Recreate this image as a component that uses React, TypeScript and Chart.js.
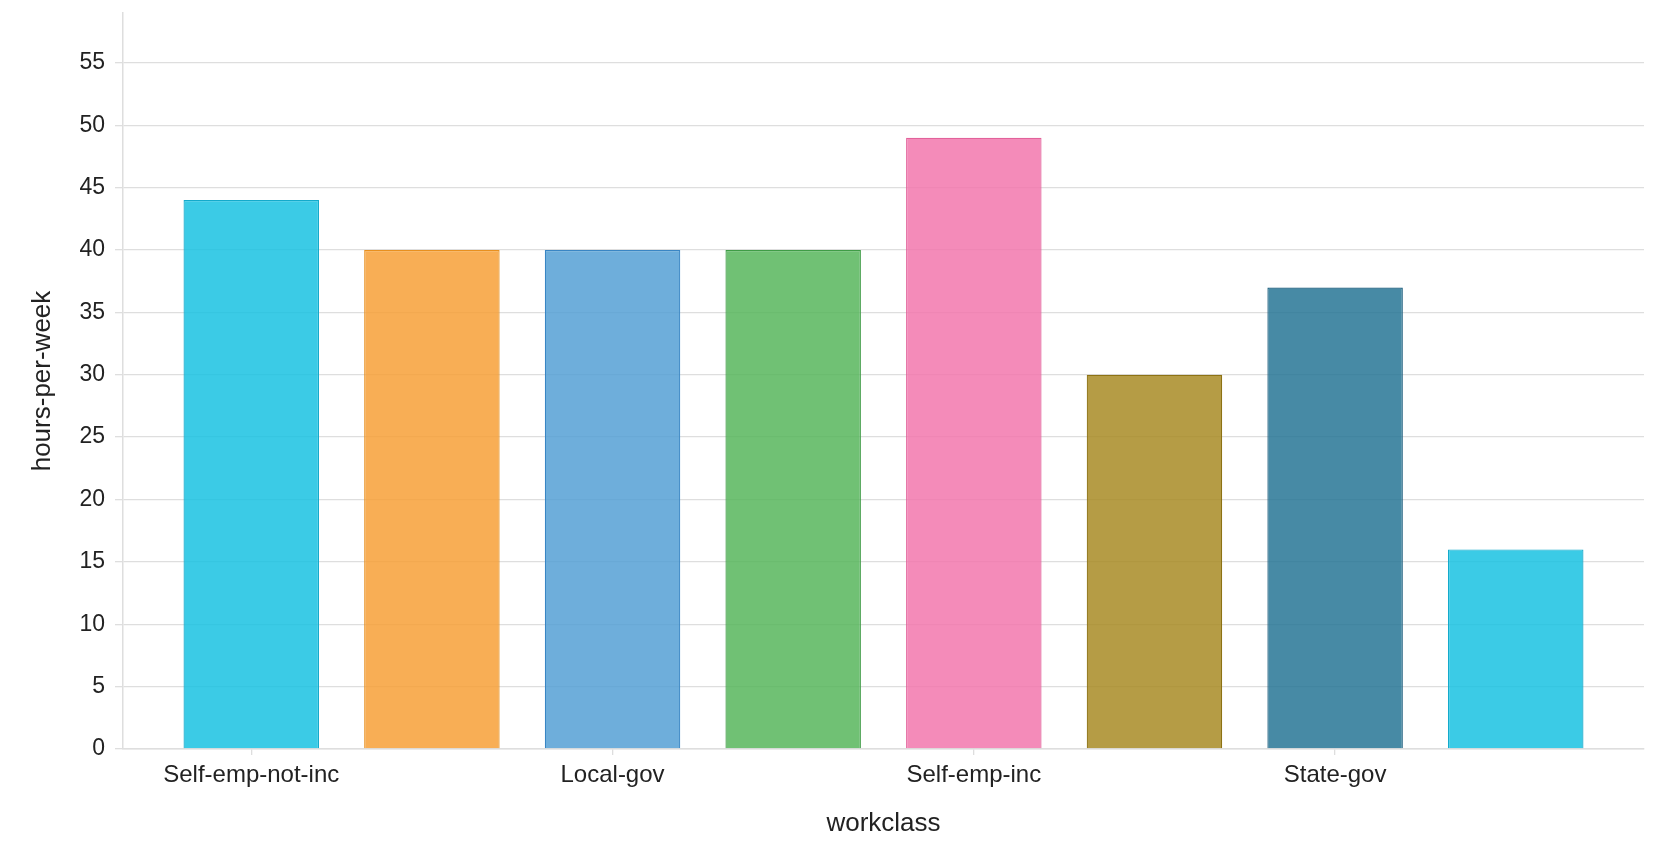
import { useEffect, useRef } from "react";
import { Chart, registerables } from "chart.js";
Chart.register(...registerables);

const workclasses = [
  "Self-emp-not-inc",
  "Private",
  "Local-gov",
  "Federal-gov",
  "Self-emp-inc",
  "Without-pay",
  "State-gov",
  "Never-worked",
];
const hoursPerWeek = [44, 40, 40, 40, 49, 30, 37, 16];
const fillColors = [
  "rgba(25,194,226,0.85)",
  "rgba(247,160,55,0.85)",
  "rgba(85,160,213,0.85)",
  "rgba(87,182,92,0.85)",
  "rgba(242,119,173,0.85)",
  "rgba(168,139,37,0.85)",
  "rgba(39,117,149,0.85)",
  "rgba(25,194,226,0.85)",
];
const borderColors = ["#14aacb", "#e8901f", "#3a86c4", "#3f9c46", "#e2629b", "#8d7214", "#1b5c7c", "#14aacb"];
const shownTicks = [0, 2, 4, 6];
const yTicks = [0, 5, 10, 15, 20, 25, 30, 35, 40, 45, 50, 55];

const FONT = "'Liberation Sans', Arial, Helvetica, sans-serif";
const GRID = "#dedede";

export default function App() {
  const canvasRef = useRef<HTMLCanvasElement>(null);

  useEffect(() => {
    if (!canvasRef.current) return;
    const ctx = canvasRef.current.getContext("2d");
    if (!ctx) return;

    const chart = new Chart(ctx, {
      type: "bar",
      data: {
        datasets: [
          {
            data: hoursPerWeek.map((v, i) => ({ x: i, y: v })),
            backgroundColor: fillColors,
            borderColor: borderColors,
            borderWidth: 1.2,
            barPercentage: 0.75,
            categoryPercentage: 1,
          },
        ],
      },
      options: {
        responsive: false,
        animation: false,
        devicePixelRatio: 1,
        layout: { padding: { top: 13, right: 24, left: 0, bottom: 0 } },
        plugins: { legend: { display: false }, tooltip: { enabled: false } },
        scales: {
          x: {
            type: "linear",
            min: -0.71,
            max: 7.71,
            offset: false,
            afterBuildTicks: (scale: any) => {
              scale.ticks = shownTicks.map((v) => ({ value: v }));
            },
            afterFit: (scale: any) => {
              scale.height = 118;
              scale.paddingLeft = 0;
              scale.paddingRight = 0;
            },
            grid: {
              offset: false,
              drawOnChartArea: false,
              drawTicks: true,
              tickLength: 6,
              color: GRID,
              lineWidth: 1.3,
            },
            border: { color: GRID, width: 1.5 },
            ticks: {
              autoSkip: false,
              maxRotation: 0,
              padding: 6,
              color: "#222",
              font: { family: FONT, size: 24 },
              callback: (v: any) => workclasses[v as number] ?? "",
            },
            title: {
              display: true,
              text: "workclass",
              color: "#222",
              font: { family: FONT, size: 26 },
              padding: { top: 0, bottom: 28 },
            },
          },
          y: {
            min: 0,
            max: 59,
            afterBuildTicks: (scale: any) => {
              scale.ticks = yTicks.map((v) => ({ value: v }));
            },
            afterFit: (scale: any) => {
              scale.width = 123;
              scale.paddingTop = 0;
              scale.paddingBottom = 0;
            },
            grid: { color: GRID, lineWidth: 1.3, tickLength: 8 },
            border: { color: GRID, width: 1.5 },
            ticks: {
              padding: 10,
              color: "#222",
              font: { family: FONT, size: 23 },
            },
            title: {
              display: true,
              text: "hours-per-week",
              color: "#222",
              font: { family: FONT, size: 26 },
              padding: { top: 27, bottom: 0 },
            },
          },
        },
      },
    });

    return () => chart.destroy();
  }, []);

  return (
    <div style={{ position: "fixed", left: 0, top: 0, width: 1668, height: 867, background: "#fff" }}>
      <canvas ref={canvasRef} width={1668} height={867} />
    </div>
  );
}
